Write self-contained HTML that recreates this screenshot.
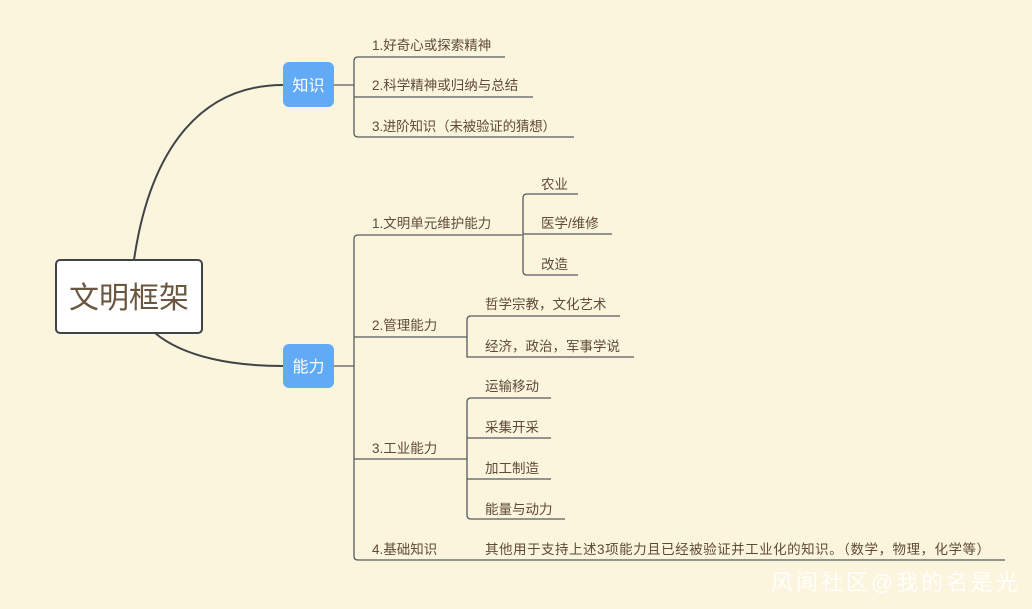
<!DOCTYPE html>
<html><head><meta charset="utf-8"><style>
html,body{margin:0;padding:0;background:#fcf5de;}
svg{display:block;}
text{font-family:"Liberation Sans","Noto Sans CJK SC",sans-serif;}
.t{font-size:13.5px;fill:#5e4a35;}
</style></head><body>
<svg width="1032" height="609" viewBox="0 0 1032 609" xmlns="http://www.w3.org/2000/svg">
<rect width="1032" height="609" fill="#fcf5de"/>
<g fill="none" stroke="#3f4448" stroke-width="2">
<path d="M134,260 C150,150 200,85 283,85"/>
<path d="M155,333 C185,358 235,366 283,366"/>
</g>
<g fill="none" stroke="#555a5e" stroke-width="1.3">
<line x1="334" y1="85" x2="354" y2="85"/>
<path d="M505,57 H358 Q354,57 354,61 V133 Q354,137 358,137 H574"/>
<line x1="354" y1="97" x2="533" y2="97"/>
<line x1="334" y1="366" x2="354" y2="366"/>
<path d="M522,235 H358 Q354,235 354,239 V556 Q354,560 358,560 H1005"/>
<path d="M578,194 H527 Q523,194 523,198 V271 Q523,275 527,275 H578"/>
<line x1="523" y1="234" x2="612" y2="234"/>
<line x1="354" y1="337" x2="467" y2="337"/>
<path d="M620,316 H471 Q467,316 467,320 V357 H634"/>
<line x1="354" y1="459" x2="467" y2="459"/>
<path d="M551,398 H471 Q467,398 467,402 V515 Q467,519 471,519 H565"/>
<line x1="467" y1="438" x2="551" y2="438"/>
<line x1="467" y1="479" x2="551" y2="479"/>
</g>
<rect x="56" y="260" width="146" height="73" rx="4" fill="#fff" stroke="#3f4448" stroke-width="2"/>
<text x="129" y="308" text-anchor="middle" font-size="30" fill="#6b5640">文明框架</text>
<rect x="283" y="62" width="51" height="45" rx="6" fill="#62aaf6"/>
<text x="308.5" y="91" text-anchor="middle" font-size="16" fill="#fff">知识</text>
<rect x="283" y="344" width="51" height="44" rx="6" fill="#62aaf6"/>
<text x="308.5" y="372" text-anchor="middle" font-size="16" fill="#fff">能力</text>
<g class="t">
<text x="372" y="50">1.好奇心或探索精神</text>
<text x="372" y="90">2.科学精神或归纳与总结</text>
<text x="372" y="131" textLength="184" lengthAdjust="spacing">3.进阶知识（未被验证的猜想）</text>
<text x="372" y="228">1.文明单元维护能力</text>
<text x="541" y="189">农业</text>
<text x="541" y="228">医学/维修</text>
<text x="541" y="269">改造</text>
<text x="372" y="330">2.管理能力</text>
<text x="485" y="309">哲学宗教，文化艺术</text>
<text x="485" y="351">经济，政治，军事学说</text>
<text x="372" y="453">3.工业能力</text>
<text x="485" y="391">运输移动</text>
<text x="485" y="432">采集开采</text>
<text x="485" y="473">加工制造</text>
<text x="485" y="514">能量与动力</text>
<text x="372" y="554">4.基础知识</text>
<text x="485" y="554" textLength="505" lengthAdjust="spacing">其他用于支持上述3项能力且已经被验证并工业化的知识。（数学，物理，化学等）</text>
</g>
<text x="771" y="590" font-size="22" fill="#ffffff" fill-opacity="0.9" textLength="247" lengthAdjust="spacing">风闻社区@我的名是光</text>
</svg>
</body></html>
